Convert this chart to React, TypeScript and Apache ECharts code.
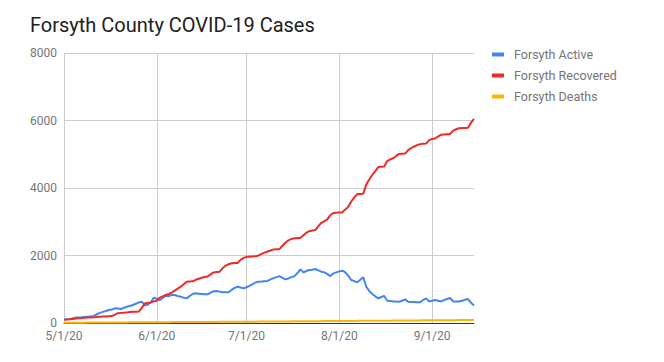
import React, { useEffect, useRef } from "react";
import * as echarts from "echarts";

const seriesNames = ["Forsyth Active", "Forsyth Recovered", "Forsyth Deaths"];

const active = [
  100, 110, 120, 140, 160, 165, 170, 180, 185, 190,
  220, 260, 300, 330, 355, 385, 400, 435, 430, 415,
  450, 483, 505, 533, 570, 610, 630, 520, 540, 613,
  750, 720, 680, 740, 810, 800, 830, 830, 800, 780,
  750, 730, 800, 860, 880, 870, 860, 850, 850, 900,
  940, 950, 930, 910, 910, 910, 980, 1040, 1075, 1050,
  1028, 1060, 1100, 1150, 1200, 1225, 1230, 1240, 1245, 1290,
  1330, 1360, 1390, 1340, 1295, 1320, 1360, 1390, 1480, 1590,
  1500, 1540, 1570, 1580, 1600, 1560, 1520, 1500, 1450, 1390,
  1470, 1500, 1530, 1550, 1500, 1400, 1275, 1240, 1205, 1280,
  1355, 1075, 950, 860, 790, 730, 770, 800, 660, 650,
  640, 635, 630, 660, 700, 630, 625, 620, 615, 613,
  680, 730, 640, 660, 680, 660, 640, 680, 710, 740,
  640, 640, 640, 660, 690, 710, 600, 520,
];

const recovered = [
  100, 105, 110, 120, 130, 140, 150, 155, 160, 165,
  170, 180, 185, 190, 195, 200, 205, 250, 290, 300,
  305, 315, 325, 330, 335, 340, 450, 580, 600, 610,
  640, 660, 750, 790, 830, 860, 900, 960, 1020, 1075,
  1150, 1225, 1230, 1235, 1280, 1310, 1340, 1360, 1380, 1440,
  1500, 1510, 1520, 1620, 1700, 1740, 1770, 1775, 1780, 1870,
  1930, 1960, 1965, 1970, 1975, 2000, 2050, 2085, 2120, 2150,
  2180, 2185, 2190, 2290, 2380, 2450, 2490, 2510, 2515, 2520,
  2600, 2675, 2720, 2740, 2755, 2870, 2970, 3020, 3070, 3200,
  3260, 3270, 3275, 3280, 3360, 3445, 3600, 3720, 3820, 3825,
  3830, 4100, 4250, 4385, 4500, 4620, 4630, 4640, 4800, 4850,
  4880, 4950, 5010, 5015, 5020, 5125, 5180, 5230, 5270, 5300,
  5310, 5315, 5420, 5450, 5470, 5520, 5580, 5585, 5590, 5595,
  5700, 5740, 5770, 5775, 5780, 5785, 5930, 6050,
];

const deaths = [
  8, 8, 9, 9, 10, 10, 11, 11, 12, 12,
  13, 13, 14, 14, 15, 15, 16, 16, 17, 17,
  18, 18, 19, 19, 20, 20, 21, 21, 22, 22,
  23, 23, 24, 24, 25, 25, 26, 26, 27, 27,
  28, 28, 29, 29, 30, 30, 31, 31, 32, 32,
  33, 33, 34, 34, 35, 35, 36, 36, 37, 37,
  38, 38, 39, 40, 40, 41, 42, 42, 43, 44,
  44, 45, 46, 46, 47, 48, 48, 49, 50, 50,
  51, 52, 52, 53, 54, 54, 55, 56, 56, 57,
  58, 58, 59, 60, 60, 61, 62, 62, 63, 64,
  64, 65, 66, 66, 67, 68, 68, 69, 70, 70,
  71, 72, 72, 73, 74, 74, 75, 76, 76, 77,
  78, 78, 79, 80, 80, 81, 82, 82, 83, 84,
  84, 85, 86, 86, 87, 88, 88, 90,
];

// Daily date labels from 5/1/20 onward (one per data point)
const startMonth = 5;
const startDay = 1;
const monthLengths: Record<number, number> = { 5: 31, 6: 30, 7: 31, 8: 31, 9: 30 };
const categories: string[] = (() => {
  const out: string[] = [];
  let m = startMonth;
  let d = startDay;
  for (let i = 0; i < active.length; i++) {
    out.push(`${m}/${d}/20`);
    d++;
    if (d > monthLengths[m]) {
      d = 1;
      m++;
    }
  }
  return out;
})();

const yTicks = { min: 0, max: 8000, interval: 2000 };

const isMonthStart = (index: number) => categories[index].split("/")[1] === "1";

export default function App() {
  const ref = useRef<HTMLDivElement>(null);

  useEffect(() => {
    if (!ref.current) return;
    const chart = echarts.init(ref.current, null, { renderer: "svg" });
    const font = "Roboto, 'Noto Sans', sans-serif";
    chart.setOption({
      animation: false,
      backgroundColor: "#ffffff",
      textStyle: { fontFamily: font },
      title: {
        text: "Forsyth County COVID-19 Cases",
        left: 25,
        top: 10,
        textStyle: { fontSize: 20, fontWeight: "normal", color: "#212121", fontFamily: font },
      },
      legend: {
        orient: "vertical",
        left: 487,
        top: 43,
        itemWidth: 12,
        itemHeight: 4,
        itemGap: 8,
        icon: "rect",
        data: seriesNames,
        textStyle: { fontSize: 12.5, color: "#757575", fontFamily: font, padding: [0, 0, 0, 5] },
      },
      grid: { left: 64, right: 190, top: 53, bottom: 39, containLabel: false },
      xAxis: {
        type: "category",
        data: categories,
        boundaryGap: false,
        axisLine: { show: true, lineStyle: { color: "#333333", width: 1 } },
        axisTick: { show: false },
        axisLabel: {
          interval: (index: number) => isMonthStart(index),
          color: "#757575",
          fontSize: 12,
          margin: 7,
          fontFamily: font,
        },
        splitLine: {
          show: true,
          interval: (index: number) => isMonthStart(index),
          lineStyle: { color: "#cccccc", width: 1 },
        },
      },
      yAxis: {
        type: "value",
        min: yTicks.min,
        max: yTicks.max,
        interval: yTicks.interval,
        axisLine: { show: false },
        axisTick: { show: false },
        axisLabel: {
          color: "#757575",
          fontSize: 12,
          margin: 7,
          fontFamily: font,
          formatter: (v: number) => String(v),
        },
        splitLine: { show: true, lineStyle: { color: "#cccccc", width: 1 } },
      },
      series: [
        {
          name: seriesNames[0],
          type: "line",
          data: active,
          showSymbol: false,
          symbol: "none",
          lineStyle: { width: 2, color: "#4285f4" },
          itemStyle: { color: "#4285f4" },
        },
        {
          name: seriesNames[1],
          type: "line",
          data: recovered,
          showSymbol: false,
          symbol: "none",
          lineStyle: { width: 2, color: "#f02a26" },
          itemStyle: { color: "#f02a26" },
        },
        {
          name: seriesNames[2],
          type: "line",
          data: deaths,
          showSymbol: false,
          symbol: "none",
          lineStyle: { width: 2, color: "#fbb604" },
          itemStyle: { color: "#fbb604" },
        },
      ],
    });
    return () => chart.dispose();
  }, []);

  return <div ref={ref} style={{ width: 664, height: 362, position: "absolute", left: 0, top: 0 }} />;
}
